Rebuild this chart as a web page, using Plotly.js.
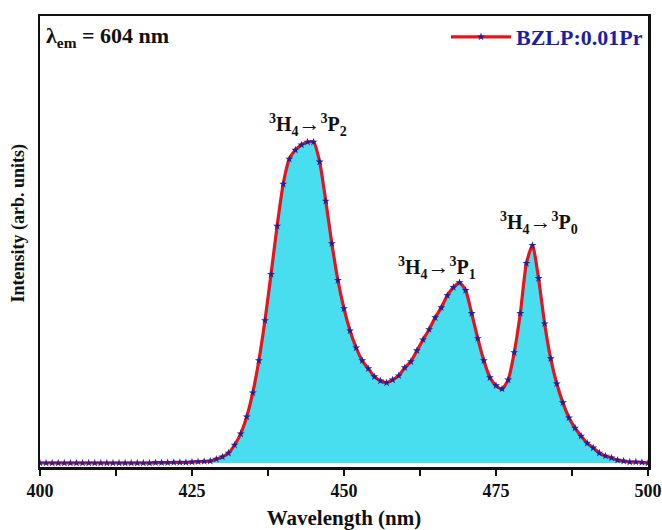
<!DOCTYPE html>
<html>
<head>
<meta charset="utf-8">
<script src="https://cdn.plot.ly/plotly-3.0.1.min.js"></script>
<style>html,body{margin:0;padding:0;background:#fff}#chart{width:662px;height:530px}</style>
</head>
<body>
<div id="chart"></div>
<script>
// Wavelength (nm), 1 nm step
const wavelength = [];
for (let w = 400; w <= 500; w++) wavelength.push(w);

// Excitation intensity (arb. units)
const intensity = [
  0.000, 0.000, 0.000, 0.000, 0.000, 0.000, 0.000, 0.000, 0.000, 0.000, // 400-409
  0.000, 0.000, 0.000, 0.000, 0.000, 0.000, 0.000, 0.000, 0.000, 0.001, // 410-419
  0.001, 0.001, 0.002, 0.002, 0.002, 0.003, 0.004, 0.005, 0.006, 0.012, // 420-429
  0.019, 0.031, 0.056, 0.091, 0.144, 0.219, 0.319, 0.444, 0.588, 0.738, // 430-439
  0.869, 0.947, 0.975, 0.991, 1.000, 1.000, 0.938, 0.816, 0.684, 0.569, // 440-449
  0.481, 0.412, 0.359, 0.319, 0.294, 0.269, 0.256, 0.250, 0.259, 0.272, // 450-459
  0.297, 0.316, 0.350, 0.384, 0.416, 0.453, 0.484, 0.522, 0.547, 0.562, // 460-469
  0.538, 0.466, 0.388, 0.319, 0.266, 0.241, 0.231, 0.259, 0.344, 0.466, // 470-479
  0.622, 0.678, 0.575, 0.434, 0.325, 0.247, 0.188, 0.141, 0.109, 0.084, // 480-489
  0.062, 0.047, 0.031, 0.022, 0.016, 0.009, 0.006, 0.003, 0.003, 0.002, // 490-499
  0.000                                                                  // 500
];

const seriesName = 'BZLP:0.01Pr';
const xTickVals = [400, 425, 450, 475, 500];
const xTickText = ['400', '425', '450', '475', '500'];
const xTitle = 'Wavelength (nm)';
const yTitle = 'Intensity (arb. units)';

// Transition labels
const labelText = [
  '<b><sup>3</sup>H<sub>4</sub></b><span style="font-size:22px">→</span><b><sup>3</sup>P<sub>2</sub></b>',
  '<b><sup>3</sup>H<sub>4</sub></b><span style="font-size:22px">→</span><b><sup>3</sup>P<sub>1</sub></b>',
  '<b><sup>3</sup>H<sub>4</sub></b><span style="font-size:22px">→</span><b><sup>3</sup>P<sub>0</sub></b>'
];
const labelX = [444.1, 465.3, 482.1];
const labelY = [1.053, 0.607, 0.748];

const serif = 'Times New Roman, Liberation Serif, serif';

const fillTrace = {
  x: wavelength,
  y: intensity,
  type: 'scatter',
  mode: 'lines+markers',
  name: seriesName,
  showlegend: false,
  fill: 'tozeroy',
  fillcolor: 'rgb(72,222,240)',
  line: {color: 'rgb(230,20,28)', width: 3.2, shape: 'spline', smoothing: 0.6},
  marker: {symbol: 'star', color: 'rgb(40,30,150)', size: 6, line: {width: 0}}
};
// legend entry only (line + star, no fill swatch)
const legendTrace = {
  x: [null], y: [null],
  type: 'scatter', mode: 'lines+markers', name: seriesName,
  line: {color: 'rgb(230,20,28)', width: 3.2},
  marker: {symbol: 'star', color: 'rgb(40,30,150)', size: 6, line: {width: 0}}
};

const annotations = labelText.map((t, i) => ({
  x: labelX[i], y: labelY[i], xref: 'x', yref: 'y',
  text: t, showarrow: false, xanchor: 'center', yanchor: 'middle',
  font: {family: serif, size: 20, color: '#111'}
}));
annotations.push({
  x: 0.006, y: 0.99, xref: 'paper', yref: 'paper', xanchor: 'left', yanchor: 'top',
  text: '<b>λ<sub>em</sub> = 604 nm</b>', showarrow: false,
  font: {family: serif, size: 22, color: '#111'}
});
annotations.push({
  x: -0.036, y: 0.54, xref: 'paper', yref: 'paper', xanchor: 'center', yanchor: 'middle',
  text: '<b>' + yTitle + '</b>', showarrow: false, textangle: -90,
  font: {family: serif, size: 18, color: '#111'}
});

const layout = {
  width: 662, height: 530,
  margin: {l: 40, r: 14, t: 16, b: 63},
  paper_bgcolor: '#fff', plot_bgcolor: '#fff',
  font: {family: serif, color: '#111', weight: 'bold'},
  showlegend: true,
  legend: {
    x: 1, y: 1.0, xanchor: 'right', yanchor: 'top',
    bgcolor: 'rgba(0,0,0,0)', borderwidth: 0,
    font: {family: serif, size: 22, color: 'rgb(30,30,160)', weight: 'bold'},
    itemwidth: 60
  },
  xaxis: {
    range: [400, 500],
    tickmode: 'array', tickvals: xTickVals, ticktext: xTickText,
    ticks: 'outside', ticklen: 6, tickwidth: 2, tickcolor: '#111',
    minor: {dtick: 12.5, ticks: 'outside', ticklen: 6, tickwidth: 2, tickcolor: '#111'},
    tickfont: {family: serif, size: 18, color: '#111', weight: 'bold'},
    showline: true, mirror: true, linewidth: 2.5, linecolor: '#111',
    showgrid: false, zeroline: false,
    title: {text: xTitle, font: {family: serif, size: 21, color: '#111', weight: 'bold'}, standoff: 12}
  },
  yaxis: {
    range: [-0.0125, 1.3925],
    showticklabels: false, ticks: '',
    showline: true, mirror: true, linewidth: 2.5, linecolor: '#111',
    showgrid: false, zeroline: false
  },
  annotations: annotations
};

Plotly.newPlot('chart', [fillTrace, legendTrace], layout, {displayModeBar: false, staticPlot: true});
</script>
</body>
</html>
